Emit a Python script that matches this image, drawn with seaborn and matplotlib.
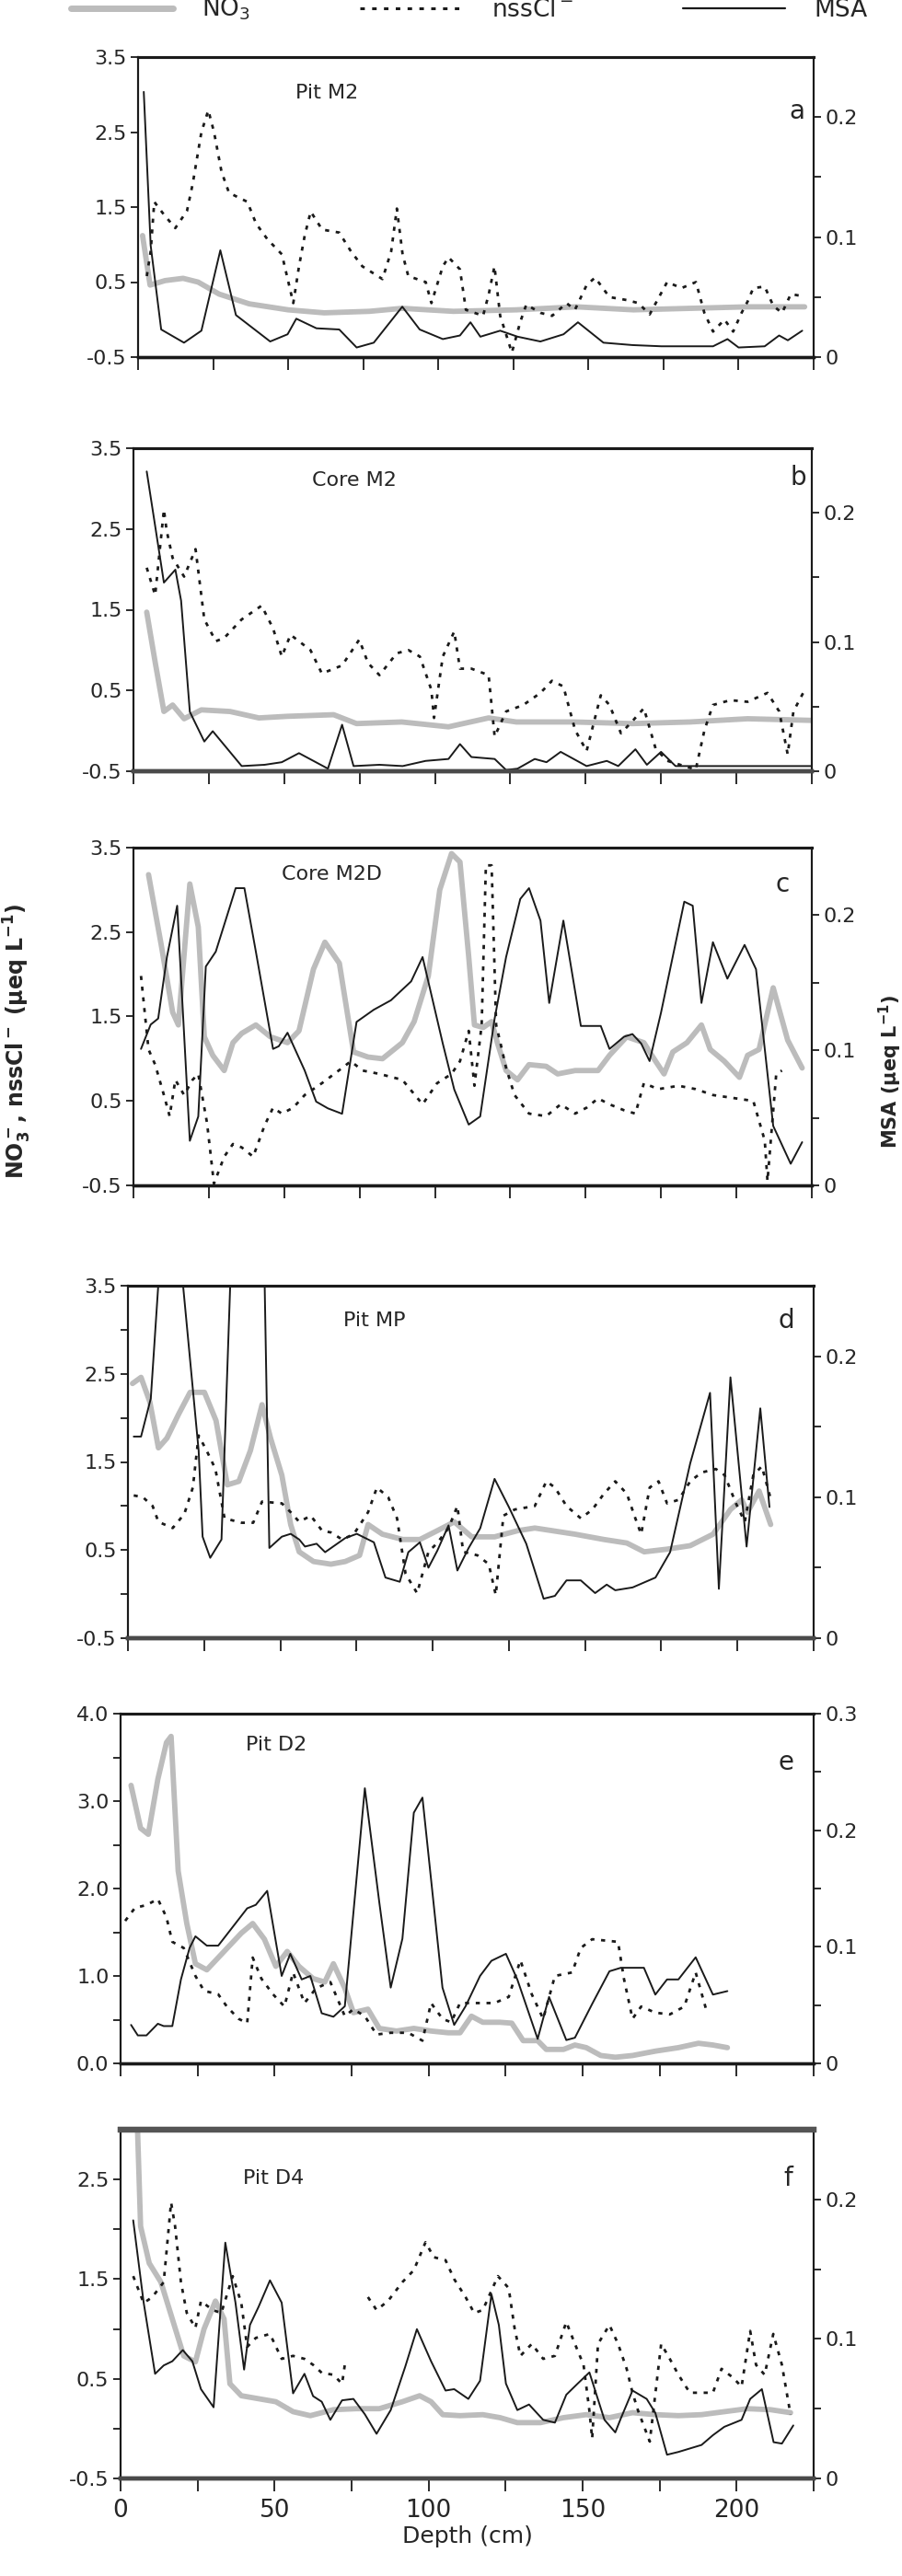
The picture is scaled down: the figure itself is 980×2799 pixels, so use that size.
import numpy as np
import pandas as pd
import matplotlib
matplotlib.use('Agg')
import matplotlib.pyplot as plt
from matplotlib.lines import Line2D
import seaborn as sns

sns.set_theme(style='ticks')
plt.rcParams['font.family'] = ['DejaVu Sans']
plt.rcParams['mathtext.default'] = 'regular'

# ---- data (depth in cm) ----
a_no3_d = [1.5, 4, 9, 15, 20, 27, 37, 50, 62, 77, 88, 105, 126, 146, 165, 184, 203, 222]
a_no3 = [1.12, 0.46, 0.52, 0.55, 0.5, 0.34, 0.21, 0.13, 0.09, 0.11, 0.15, 0.11, 0.13, 0.17, 0.13, 0.15, 0.17, 0.17]
a_nss_d = [2.9, 4.2, 5.4, 8.6, 12.4, 16.3, 18.2, 21.1, 23.4, 25.3, 27.8, 30.3, 36.4, 39.3, 43.1, 47.9, 51.7, 53.6, 55.5, 57.5,
           61.3, 67, 70.9, 74.7, 81.4, 84.3, 86.2, 88.1, 90, 95.8, 97.7, 101.5, 103.4, 107.2, 109.2, 114.9, 116.8, 118.7, 120.6, 124.5,
           127.3, 129.3, 134, 137.9, 142.7, 145.5, 149.4, 152.2, 157, 162.8, 166.6, 170.4, 176.2, 181, 185.8, 188.6, 191.5, 195.3, 198.2, 201,
           203, 204.9, 208.7, 211.6, 214.5, 217.4, 220.2]
a_nss = [0.58, 0.91, 1.57, 1.4, 1.22, 1.45, 1.81, 2.5, 2.79, 2.5, 1.97, 1.69, 1.57, 1.28, 1.07, 0.87, 0.22, 0.71, 1.12, 1.44,
         1.2, 1.16, 0.91, 0.71, 0.54, 0.91, 1.48, 0.87, 0.58, 0.5, 0.22, 0.71, 0.83, 0.67, 0.13, 0.05, 0.34, 0.71, 0.05, -0.44,
         -0.03, 0.2, 0.09, 0.05, 0.22, 0.13, 0.46, 0.56, 0.3, 0.26, 0.22, 0.07, 0.5, 0.42, 0.5, 0.09, -0.16, 0.0, -0.16, 0.09,
         0.24, 0.42, 0.44, 0.18, 0.09, 0.34, 0.32]
a_msa_d = [1.9, 4.2, 7.7, 15.3, 21.1, 27.4, 32.6, 44, 49.8, 52.7, 59.4, 67, 72.8, 78.5, 88, 93.8, 101.5, 107.2, 110.7, 114,
           120.6, 126.4, 134, 141.7, 146.5, 155, 164.7, 174.3, 191.5, 196.3, 200, 208.7, 213.5, 216.4, 221.2]
a_msa = [0.221, 0.093, 0.023, 0.012, 0.022, 0.089, 0.035, 0.013, 0.019, 0.032, 0.024, 0.023, 0.008, 0.012, 0.042, 0.023, 0.015, 0.018, 0.029, 0.017,
         0.022, 0.017, 0.013, 0.019, 0.029, 0.012, 0.010, 0.009, 0.009, 0.015, 0.008, 0.009, 0.018, 0.014, 0.022]

b_no3_d = [4.4, 7.2, 10.1, 13, 16.8, 22.5, 32, 41.6, 51, 66.4, 74, 89, 104.5, 117.8, 127, 146, 165.5, 184.6, 203.7, 224.6]
b_no3 = [1.47, 0.85, 0.24, 0.32, 0.15, 0.26, 0.24, 0.16, 0.18, 0.2, 0.09, 0.11, 0.05, 0.16, 0.11, 0.11, 0.09, 0.11, 0.15, 0.13]
b_nss_d = [4.4, 7.2, 10.1, 11, 13, 16.8, 20.6, 23.5, 27.3, 30.1, 35.9, 42.5, 46.3, 49.2, 52.1, 58.7, 62.5, 69.2, 74.9, 77.8,
           81.6, 87.3, 91.2, 95, 98.8, 99.7, 102.6, 106.4, 108.3, 112.1, 117.8, 119.8, 123.6, 129.3, 135, 138.8, 142.6, 146.5, 150.3, 155,
           157.9, 161.7, 165.5, 169.3, 173.2, 177, 186.5, 189.4, 192.2, 198, 203.7, 210.3, 214.2, 217, 218.9, 222.7]
b_nss = [2.02, 1.68, 2.74, 2.48, 2.14, 1.91, 2.25, 1.38, 1.11, 1.15, 1.38, 1.55, 1.27, 0.92, 1.19, 1.0, 0.71, 0.81, 1.13, 0.84,
         0.69, 0.96, 1.0, 0.92, 0.51, 0.16, 0.92, 1.23, 0.77, 0.77, 0.69, -0.07, 0.24, 0.32, 0.47, 0.62, 0.55, 0.01, -0.25, 0.44,
         0.32, -0.03, 0.12, 0.28, -0.22, -0.37, -0.48, 0.01, 0.32, 0.38, 0.36, 0.47, 0.24, -0.29, 0.24, 0.51]
b_msa_d = [4.4, 10.1, 13.9, 15.8, 18.7, 23.5, 26.3, 35.9, 43.5, 49.2, 54.9, 64.5, 69.2, 73, 81.6, 89.3, 96.9, 104.5, 108.3, 112.1,
           119.8, 123.6, 127.4, 133.1, 137, 141.7, 150.3, 157, 160.8, 166.5, 170.3, 175, 179.8, 194, 203.7, 224.6]
b_msa = [0.232, 0.146, 0.156, 0.132, 0.046, 0.023, 0.031, 0.004, 0.005, 0.007, 0.014, 0.002, 0.036, 0.004, 0.005, 0.004, 0.008, 0.0095, 0.021, 0.011,
         0.0095, 0.001, 0.002, 0.0095, 0.007, 0.015, 0.004, 0.008, 0.004, 0.017, 0.005, 0.015, 0.004, 0.004, 0.004, 0.004]

c_no3_d = [5, 9.2, 13, 14.9, 18.7, 21.5, 23.5, 26.3, 30.1, 33, 35.9, 40.6, 45.4, 51.1, 54.9, 59.7, 63.5, 68.3, 73, 77.8,
           82.6, 89.2, 93.1, 97.8, 101.6, 105.5, 108.3, 111.2, 113.1, 116, 118.8, 120.7, 123.6, 127.4, 131.2, 136.9, 140.7, 146.5, 154.1, 157.9,
           163.6, 169.3, 173.2, 176, 178.9, 183.6, 188.4, 191.3, 196, 201, 203.7, 207.5, 212.2, 217, 221.8]
c_no3 = [3.18, 2.35, 1.55, 1.4, 3.07, 2.56, 1.26, 1.04, 0.86, 1.19, 1.3, 1.4, 1.26, 1.19, 1.33, 2.06, 2.38, 2.13, 1.08, 1.02,
         1.0, 1.19, 1.44, 1.98, 3.0, 3.43, 3.33, 2.21, 1.4, 1.37, 1.44, 1.19, 0.86, 0.75, 0.93, 0.91, 0.82, 0.86, 0.86, 1.04,
         1.26, 1.19, 0.97, 0.82, 1.08, 1.19, 1.4, 1.11, 0.97, 0.78, 1.04, 1.11, 1.84, 1.22, 0.89]
c_nss_d = [2.5, 5, 7.2, 10.1, 12, 13.9, 16.8, 19.6, 21.5, 24.4, 26.7, 30.1, 33, 35.9, 39.7, 43.5, 46.3, 49.2, 53, 56.8,
           62.5, 69.2, 72.1, 76, 81.6, 89.2, 95.9, 100.7, 105.5, 108.3, 111.2, 113.1, 115.5, 116.9, 118.8, 120.3, 121.7, 123.6, 126.4, 131.2,
           136.9, 141.7, 146.5, 150.3, 154.1, 157.9, 162.7, 166.5, 169.3, 174.1, 180.8, 186.5, 192.2, 199.9, 205.6, 209.4, 210.3, 213.2, 215.1]
c_nss = [1.98, 1.11, 0.93, 0.57, 0.32, 0.75, 0.57, 0.75, 0.82, 0.24, -0.48, -0.16, -0.01, -0.05, -0.16, 0.21, 0.42, 0.35, 0.42, 0.57,
         0.71, 0.89, 0.97, 0.86, 0.82, 0.75, 0.46, 0.71, 0.82, 0.97, 1.33, 0.68, 1.4, 3.29, 3.29, 1.4, 1.19, 0.89, 0.57, 0.35,
         0.32, 0.46, 0.35, 0.42, 0.53, 0.46, 0.39, 0.35, 0.71, 0.64, 0.68, 0.64, 0.57, 0.53, 0.5, 0.03, -0.45, 0.82, 0.86]
c_msa_d = [2.5, 5.7, 8.2, 11.1, 14.5, 18.7, 21.5, 24, 27.3, 31.1, 33.9, 36.8, 40.6, 46.3, 48.2, 51.1, 56.8, 60.6, 64.5, 69.2,
           74, 79.7, 85.4, 92.1, 95.9, 102.6, 106.4, 111.2, 115, 119.8, 123.6, 128.3, 131.2, 135, 137.9, 142.6, 148.4, 155, 157.9, 162.7,
           165.5, 168.4, 171.2, 175, 182.7, 185.5, 188.4, 192.2, 197, 202.7, 206.5, 212.2, 218, 221.8]
c_msa = [0.101, 0.119, 0.1235, 0.169, 0.207, 0.033, 0.051, 0.162, 0.173, 0.2, 0.22, 0.22, 0.173, 0.101, 0.103, 0.113, 0.085, 0.062, 0.057, 0.053,
         0.121, 0.13, 0.137, 0.151, 0.169, 0.105, 0.071, 0.045, 0.051, 0.1235, 0.169, 0.212, 0.22, 0.196, 0.135, 0.196, 0.118, 0.118, 0.101, 0.11,
         0.112, 0.105, 0.092, 0.128, 0.21, 0.207, 0.135, 0.18, 0.153, 0.178, 0.16, 0.044, 0.016, 0.032]

d_no3_d = [1.5, 4.3, 7.2, 10, 12.8, 16.6, 20.4, 25.1, 28.9, 32.6, 36.4, 40.2, 44, 46.8, 50.5, 53.4, 56.2, 60.9, 66.6, 71.3,
           76, 78.8, 83.5, 90.2, 95.8, 101.5, 107.1, 112.8, 120.3, 127.9, 133.5, 139.2, 146.7, 156.2, 163.7, 169.4, 176.9, 184.5, 192, 197.7,
           201.4, 203.3, 207.1, 210.9]
d_no3 = [2.39, 2.46, 2.18, 1.66, 1.77, 2.04, 2.29, 2.29, 1.97, 1.24, 1.28, 1.63, 2.15, 1.77, 1.35, 0.79, 0.48, 0.37, 0.34, 0.37,
         0.44, 0.79, 0.68, 0.62, 0.62, 0.72, 0.82, 0.65, 0.65, 0.72, 0.75, 0.72, 0.68, 0.62, 0.58, 0.48, 0.51, 0.55, 0.68, 0.96,
         1.07, 0.93, 1.17, 0.79]
d_nss_d = [1.9, 4.9, 8.1, 10, 14.7, 18.5, 21.3, 23.2, 25.8, 28.7, 31.7, 37.3, 41.1, 44, 50.5, 53.4, 56.2, 60, 63.7, 66.6,
           70.3, 74.1, 78.8, 81.7, 85.4, 88.3, 91.1, 94.9, 98.6, 101.5, 105.2, 108.1, 110, 114.7, 118.4, 120.7, 123.2, 126.9, 133.5, 137.3,
           140.1, 143.9, 148.6, 152.4, 156.2, 159.9, 163.7, 166.5, 168.4, 171.2, 174.1, 176.9, 180.7, 184.5, 188.2, 192.9, 195.8, 199.5, 202.4, 205.2,
           208, 211]
d_nss = [1.12, 1.1, 1.0, 0.82, 0.75, 0.91, 1.21, 1.8, 1.63, 1.42, 0.86, 0.81, 0.81, 1.05, 1.03, 0.93, 0.82, 0.89, 0.72, 0.7,
         0.62, 0.68, 0.93, 1.21, 1.1, 0.86, 0.23, 0.01, 0.48, 0.58, 0.75, 1.0, 0.48, 0.44, 0.34, -0.01, 0.89, 0.96, 1.0, 1.28,
         1.21, 1.0, 0.86, 0.96, 1.14, 1.28, 1.14, 0.86, 0.68, 1.21, 1.28, 1.03, 1.07, 1.28, 1.38, 1.42, 1.35, 1.03, 0.82, 1.35,
         1.45, 1.07]
d_msa_d = [1.9, 4.3, 7.5, 13.3, 23.2, 24.5, 27, 30.7, 41, 46.4, 50.5, 53.4, 56.2, 58.1, 61.9, 64.7, 71.3, 75.1, 80.7, 84.5,
           89.2, 92, 95.8, 98.6, 101.5, 105.2, 108.1, 111.8, 115.6, 120.3, 125, 130.7, 136.4, 140.1, 143.9, 148.6, 153.3, 157.1, 159.9, 165.6,
           173.1, 177.9, 184.5, 191, 193.9, 197.7, 203, 207.5, 210.5]
d_msa = [0.143, 0.143, 0.17, 0.36, 0.133, 0.072, 0.057, 0.07, 0.72, 0.064, 0.072, 0.074, 0.07, 0.065, 0.067, 0.061, 0.071, 0.074, 0.068, 0.043,
         0.04, 0.061, 0.068, 0.05, 0.062, 0.08, 0.048, 0.064, 0.078, 0.113, 0.093, 0.067, 0.028, 0.03, 0.041, 0.041, 0.032, 0.038, 0.034, 0.036,
         0.043, 0.061, 0.124, 0.174, 0.035, 0.185, 0.065, 0.163, 0.093]

e_no3_d = [3.4, 6.5, 9, 12.1, 14.9, 16.4, 18.7, 21.5, 24.3, 28, 33.6, 39.2, 42.9, 46.7, 50.4, 54.1, 57.9, 62.5, 66.3, 69.1,
           72.8, 75.6, 80.3, 84, 89.6, 95.2, 100.8, 106.4, 110.2, 113.9, 117.6, 123.2, 127, 130.7, 135.4, 138.2, 143.8, 147.5, 151.2, 155.9,
           160.6, 166.2, 173.6, 181.1, 187.6, 192.3, 197]
e_no3 = [3.18, 2.69, 2.62, 3.25, 3.67, 3.74, 2.2, 1.6, 1.14, 1.07, 1.28, 1.49, 1.6, 1.42, 1.11, 1.28, 1.11, 0.97, 0.93, 1.14,
         0.86, 0.58, 0.62, 0.4, 0.37, 0.4, 0.37, 0.35, 0.35, 0.54, 0.47, 0.47, 0.46, 0.26, 0.26, 0.16, 0.16, 0.21, 0.18, 0.09,
         0.07, 0.09, 0.14, 0.18, 0.23, 0.21, 0.18]
e_nss_d = [1.5, 4.7, 8.4, 12.1, 14.9, 16.8, 20.5, 24.3, 27.1, 31.7, 34.5, 38.3, 41.1, 42.9, 45.7, 49.5, 53.2, 56, 59.7, 63.5,
           68.1, 72.8, 75.6, 79.3, 83.1, 87.7, 93.4, 98, 100.8, 104.5, 107.3, 110.2, 115.8, 121.4, 126, 129.8, 133.5, 137.2, 141, 146.6,
           149.4, 153.1, 161.5, 163.4, 166.2, 169, 173.6, 178.3, 183, 186.7, 190.4]
e_nss = [1.63, 1.78, 1.81, 1.88, 1.67, 1.39, 1.32, 1.0, 0.83, 0.79, 0.65, 0.51, 0.46, 1.21, 0.97, 0.79, 0.65, 1.04, 0.69, 0.86,
         0.93, 0.54, 0.62, 0.54, 0.33, 0.35, 0.35, 0.26, 0.69, 0.51, 0.47, 0.69, 0.69, 0.69, 0.76, 1.18, 0.79, 0.51, 1.0, 1.04,
         1.32, 1.42, 1.39, 0.97, 0.51, 0.65, 0.58, 0.56, 0.65, 1.04, 0.58]
e_msa_d = [3.4, 5.6, 8.4, 12.1, 14, 16.8, 19.6, 22.4, 24.3, 28, 31.7, 36.4, 41.1, 43.9, 47.6, 52.3, 55.1, 58.8, 61.6, 65.3,
           69.1, 72.8, 79.3, 84, 87.7, 91.5, 95.2, 98, 104.5, 108.3, 112, 116.7, 120.4, 125.1, 128.8, 135.4, 139.1, 144.7, 147.5, 153.1,
           158.7, 162.4, 169.9, 173.6, 177.4, 181.1, 186.7, 192.3, 197]
e_msa = [0.033, 0.024, 0.024, 0.034, 0.032, 0.032, 0.072, 0.099, 0.109, 0.101, 0.101, 0.117, 0.133, 0.136, 0.148, 0.075, 0.094, 0.072, 0.075, 0.043,
         0.04, 0.049, 0.236, 0.138, 0.065, 0.107, 0.215, 0.228, 0.065, 0.033, 0.049, 0.075, 0.088, 0.094, 0.072, 0.021, 0.057, 0.02, 0.022, 0.051,
         0.079, 0.082, 0.082, 0.059, 0.072, 0.072, 0.091, 0.059, 0.062]

f_no3_d = [5.2, 6.5, 9.3, 13.1, 16.8, 20.5, 24.3, 27.1, 30.8, 33.6, 35.5, 39.2, 44.8, 50.4, 56, 61.6, 69.1, 76.5, 84, 91.5,
           97.1, 100.8, 104.6, 110.2, 117.6, 123.2, 128.8, 136.3, 143.8, 151.2, 158.7, 166.2, 173.6, 181.1, 188.6, 196, 203.5, 211, 217.5]
f_no3 = [3.3, 2.03, 1.66, 1.47, 1.1, 0.73, 0.67, 1.0, 1.28, 1.1, 0.45, 0.33, 0.3, 0.27, 0.17, 0.13, 0.19, 0.2, 0.2, 0.27,
         0.33, 0.27, 0.14, 0.13, 0.14, 0.11, 0.06, 0.06, 0.11, 0.14, 0.11, 0.16, 0.14, 0.13, 0.14, 0.17, 0.2, 0.19, 0.16]
f_nss_d = [4.1, 7.5, 10.3, 14, 16.4, 17.7, 19.6, 21.5, 24.3, 26.1, 29.9, 32.7, 36.4, 39.2, 41.1, 43.9, 48.5, 52.3, 56, 59.7,
           62.5, 65.3, 69.1, 71.9, 72.8, 80.3, 83.1, 86.8, 91.5, 95.2, 99, 101.7, 105.5, 108.3, 112, 114.8, 117.6, 122.5, 126, 127.9,
           129.8, 133.5, 137.2, 141, 144.7, 147.5, 150.3, 152.2, 153.1, 155, 158.7, 161.5, 164.3, 166.2, 168, 171.8, 175.5, 178.3, 181.1, 184.8,
           192.3, 195.1, 198.9, 201.6, 204.4, 206.3, 209.1, 211.9, 214.7, 217.5]
f_nss = [1.53, 1.26, 1.32, 1.47, 2.27, 2.03, 1.47, 1.16, 1.01, 1.28, 1.19, 1.16, 1.53, 1.26, 0.82, 0.91, 0.95, 0.7, 0.73, 0.7,
         0.64, 0.56, 0.54, 0.45, 0.64, 1.32, 1.19, 1.28, 1.47, 1.59, 1.87, 1.72, 1.69, 1.5, 1.32, 1.16, 1.19, 1.53, 1.41, 1.01,
         0.73, 0.85, 0.7, 0.73, 1.07, 0.85, 0.64, 0.18, -0.1, 0.85, 1.04, 0.85, 0.6, 0.36, 0.18, -0.13, 0.85, 0.7, 0.54, 0.36,
         0.36, 0.6, 0.51, 0.42, 0.98, 0.64, 0.54, 0.95, 0.64, 0.14]
f_nss_gap = 76  # no nssCl samples between ~73 and ~80 cm
f_msa_d = [4.1, 7.5, 11.2, 14, 16.8, 20.2, 23.3, 26.1, 30.2, 34, 37.3, 40.1, 42, 44.8, 48.5, 52.3, 56, 59.7, 62.5, 65.3,
           68.1, 71.9, 75.6, 79.3, 83.1, 87.7, 92.4, 96.2, 100.8, 105.5, 108.3, 112.9, 116.7, 120.4, 122.8, 125.1, 128.8, 132.6, 137.2, 141,
           144.7, 148.4, 152.2, 157.1, 160.6, 162.4, 166.2, 170.8, 173.6, 177.4, 181.1, 188.6, 192.3, 196, 201.6, 204.4, 208.2, 212, 214.7, 218.4]
f_msa = [0.185, 0.126, 0.075, 0.081, 0.084, 0.092, 0.084, 0.064, 0.051, 0.169, 0.126, 0.078, 0.11, 0.123, 0.142, 0.126, 0.061, 0.075, 0.059, 0.055,
         0.042, 0.056, 0.057, 0.046, 0.032, 0.049, 0.08, 0.107, 0.084, 0.063, 0.064, 0.057, 0.07, 0.132, 0.11, 0.068, 0.049, 0.053, 0.042, 0.04,
         0.06, 0.068, 0.076, 0.042, 0.033, 0.043, 0.063, 0.057, 0.047, 0.017, 0.019, 0.024, 0.031, 0.037, 0.042, 0.057, 0.064, 0.026, 0.025, 0.038]

panel_names = ['Pit M2', 'Core M2', 'Core M2D', 'Pit MP', 'Pit D2', 'Pit D4']
panel_letters = ['a', 'b', 'c', 'd', 'e', 'f']
depth_ticks = list(range(0, 226, 25))

# ---- layout (pixel boxes: left, top, right, bottom) ----
W, H = 980, 2799
boxes = [(150, 62, 884, 388), (145, 487, 882, 838), (145, 921, 882, 1288),
         (139, 1397, 884, 1780), (131, 1862, 884, 2242), (131, 2314, 884, 2693)]
name_pos = [(0.28, 0.88), (0.325, 0.9), (0.293, 0.92), (0.36, 0.9), (0.225, 0.91), (0.22, 0.86)]
letter_pos = [(0.975, 0.82), (0.98, 0.91), (0.957, 0.89), (0.96, 0.9), (0.96, 0.86), (0.963, 0.86)]

NO3_C = '#bcbcbc'
FS = 16

fig = plt.figure(figsize=(W / 100, H / 100), dpi=100)

series = [
    (a_no3_d, a_no3, a_nss_d, a_nss, a_msa_d, a_msa),
    (b_no3_d, b_no3, b_nss_d, b_nss, b_msa_d, b_msa),
    (c_no3_d, c_no3, c_nss_d, c_nss, c_msa_d, c_msa),
    (d_no3_d, d_no3, d_nss_d, d_nss, d_msa_d, d_msa),
    (e_no3_d, e_no3, e_nss_d, e_nss, e_msa_d, e_msa),
    (f_no3_d, f_no3, f_nss_d, f_nss, f_msa_d, f_msa),
]

for i, (nd, nv, cd, cv, md, mv) in enumerate(series):
    l, t, r, b = boxes[i]
    ax = fig.add_axes([l / W, 1 - b / H, (r - l) / W, (b - t) / H])
    ax2 = ax.twinx()

    no3_df = pd.DataFrame({'depth': nd, 'val': nv})
    nss_df = pd.DataFrame({'depth': cd, 'val': cv})
    nss_df['seg'] = 0
    if i == 5:
        nss_df['seg'] = (nss_df['depth'] > f_nss_gap).astype(int)
    msa_df = pd.DataFrame({'depth': md, 'val': mv})

    sns.lineplot(data=no3_df, x='depth', y='val', color=NO3_C, lw=4.2, sort=False,
                 estimator=None, ax=ax, legend=False)
    sns.lineplot(data=nss_df, x='depth', y='val', units='seg', color='k', lw=2.0,
                 linestyle=(0, (1.6, 2.6)), sort=False, estimator=None, ax=ax, legend=False)
    sns.lineplot(data=msa_df, x='depth', y='val', color='k', lw=1.4, sort=False,
                 estimator=None, ax=ax2, legend=False)

    ax.set_xlim(0, 225)
    ax.set_xticks(depth_ticks)
    if i == 5:
        ax.set_xticklabels([str(v) if v % 50 == 0 else '' for v in depth_ticks])
        ax.set_xlabel('Depth (cm)', fontsize=18, labelpad=2)
    else:
        ax.set_xticklabels([])
        ax.set_xlabel('')
    ax.set_ylabel('')
    ax2.set_ylabel('')

    # left axis
    if i == 4:
        ax.set_ylim(0, 4.0)
        ax.set_yticks([0, 1, 2, 3, 4])
        ax.set_yticklabels(['0.0', '1.0', '2.0', '3.0', '4.0'])
        ax.set_yticks([0.5, 1.5, 2.5, 3.5], minor=True)
    elif i == 5:
        ax.set_ylim(-0.5, 3.0)
        ax.set_yticks([-0.5, 0.5, 1.5, 2.5])
        ax.set_yticklabels(['-0.5', '0.5', '1.5', '2.5'])
        ax.set_yticks([0, 1, 2], minor=True)
    else:
        ax.set_ylim(-0.5, 3.5)
        ax.set_yticks([-0.5, 0.5, 1.5, 2.5, 3.5])
        ax.set_yticklabels(['-0.5', '0.5', '1.5', '2.5', '3.5'])
        if i == 3:
            ax.set_yticks([0, 1, 2, 3], minor=True)

    # right axis (MSA)
    if i == 4:
        ax2.set_ylim(0, 0.3)
        ax2.set_yticks([0, 0.1, 0.2, 0.3])
        ax2.set_yticklabels(['0', '0.1', '0.2', '0.3'])
        ax2.set_yticks([0.05, 0.15, 0.25], minor=True)
    else:
        ax2.set_ylim(0, 0.25)
        ax2.set_yticks([0, 0.1, 0.2])
        ax2.set_yticklabels(['0', '0.1', '0.2'])
        ax2.set_yticks([0.05, 0.15], minor=True)

    for a_ in (ax, ax2):
        a_.tick_params(axis='y', which='both', direction='out', length=6, width=1.3,
                       labelsize=FS, pad=3, color='k')
        for s in a_.spines.values():
            s.set_color('k')
            s.set_linewidth(1.5)
        a_.spines['top'].set_linewidth(2.2)
        a_.spines['bottom'].set_linewidth(2.4)
    ax.tick_params(axis='x', which='both', direction='out', length=10, width=1.3,
                   labelsize=FS + 3, pad=6, color='k')
    if i in (1, 3, 5):
        for a_ in (ax, ax2):
            a_.spines['bottom'].set_color('#4a4a4a')
            a_.spines['bottom'].set_linewidth(3.2)
    if i == 5:
        for a_ in (ax, ax2):
            a_.spines['top'].set_color('#555555')
            a_.spines['top'].set_linewidth(4.5)

    ax.text(*name_pos[i], panel_names[i], transform=ax.transAxes, ha='center', va='center',
            fontsize=FS)
    ax2.text(*letter_pos[i], panel_letters[i], transform=ax.transAxes, ha='center', va='center',
             fontsize=FS + 4)

# axis titles shared by the column
fig.text(19 / W, 1 - 1131 / H, 'NO$_3^-$, nssCl$^-$ (μeq L$^{-1}$)', rotation=90,
         ha='center', va='center', fontsize=17, fontweight='bold')
fig.text(967 / W, 1 - 1165 / H, 'MSA (μeq L$^{-1}$)', rotation=90,
         ha='center', va='center', fontsize=15, fontweight='bold')

# legend along the top edge
handles = [Line2D([], [], color=NO3_C, lw=5),
           Line2D([], [], color='k', lw=2.2, linestyle=(0, (1.6, 2.6))),
           Line2D([], [], color='k', lw=1.6)]
fig.legend(handles, ['NO$_3$', 'nssCl$^-$', 'MSA'], loc='center', ncol=3,
           bbox_to_anchor=(0.52, 1 - 10 / H), frameon=False, fontsize=19,
           handlelength=4.2, columnspacing=4.5, handletextpad=1.2)

fig.savefig('out.png', dpi=100)
